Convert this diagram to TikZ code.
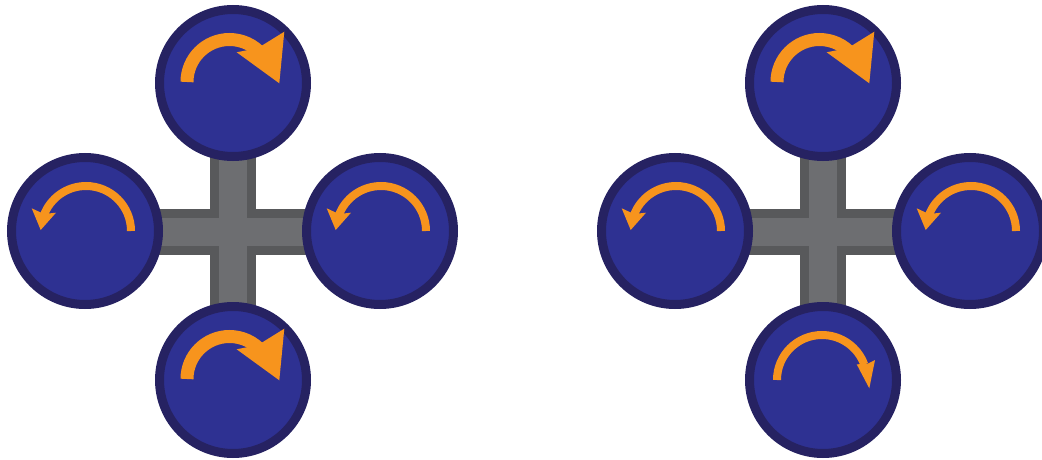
\documentclass[tikz,border=0pt]{standalone}
\definecolor{motorc}{HTML}{2E3192}
\definecolor{ringc}{HTML}{262262}
\definecolor{arrowc}{HTML}{F7941D}
\definecolor{bardark}{HTML}{58595B}
\definecolor{barlight}{HTML}{6D6E71}
\tikzset{
  motor/.style={circle, draw=ringc, fill=motorc, line width=9pt, minimum size=147pt, inner sep=0pt},
  barouter/.style={draw=bardark, line width=46pt},
  barinner/.style={draw=barlight, line width=28pt},
  shaftbig/.style={draw=arrowc, line width=13pt},
  shaftsmall/.style={draw=arrowc, line width=8pt},
  headfill/.style={fill=arrowc}
}
\newcommand{\bigcwarrow}{%
  \draw[shaftbig] (-46,-1) arc[start angle=180, end angle=320, radius=42.5];
  \fill[headfill] (3.7,-30.7) -- (25,-35) -- (51.3,-51.3) -- (46.3,0.3) -- cycle;}
\newcommand{\smallccwarrow}{%
  \draw[shaftsmall] (46,0) arc[start angle=0, end angle=-160, radius=45];
  \fill[headfill] (-53.3,-22.7) -- (-44.3,-1) -- (-29,-18.3) -- (-41,-17) -- cycle;}
\newcommand{\smallcwarrow}{%
  \draw[shaftsmall] (-46,0) arc[start angle=180, end angle=340, radius=45];
  \fill[headfill] (52,-20) -- (46.3,8.3) -- (33.7,-15.7) -- (44,-16) -- cycle;}
\begin{document}
\begin{tikzpicture}[x=1pt, y=-1pt]
\useasboundingbox (0,0) rectangle (1042,460);
% left quad
\coordinate (Lc) at (233,232);
\coordinate (Lt) at (233,83);
\coordinate (Lb) at (233,380);
\coordinate (Ll) at (85,231);
\coordinate (Lr) at (380,231);
% right quad
\coordinate (Rt) at (823,83);
\coordinate (Rb) at (823,380);
\coordinate (Rl) at (675,231);
\coordinate (Rr) at (970,231);
% frames
\draw[barouter] (Ll |- Lc) -- (Lr |- Lc);
\draw[barouter] (Lt) -- (Lb);
\draw[barinner] (Ll |- Lc) -- (Lr |- Lc);
\draw[barinner] (Lt) -- (Lb);
\draw[barouter] (Rl |- Lc) -- (Rr |- Lc);
\draw[barouter] (Rt) -- (Rb);
\draw[barinner] (Rl |- Lc) -- (Rr |- Lc);
\draw[barinner] (Rt) -- (Rb);
% motors
\node[motor] (mLt) at (Lt) {};
\node[motor] (mLb) at (Lb) {};
\node[motor] (mLl) at (Ll) {};
\node[motor] (mLr) at (Lr) {};
\node[motor] (mRt) at (Rt) {};
\node[motor] (mRb) at (Rb) {};
\node[motor] (mRl) at (Rl) {};
\node[motor] (mRr) at (Rr) {};
% rotation arrows
\begin{scope}[shift={(mLt.center)}]\bigcwarrow\end{scope}
\begin{scope}[shift={(mLb.center)}]\bigcwarrow\end{scope}
\begin{scope}[shift={(mLl.center)}]\smallccwarrow\end{scope}
\begin{scope}[shift={(mLr.center)}]\smallccwarrow\end{scope}
\begin{scope}[shift={(mRt.center)}]\bigcwarrow\end{scope}
\begin{scope}[shift={(mRb.center)}]\smallcwarrow\end{scope}
\begin{scope}[shift={(mRl.center)}]\smallccwarrow\end{scope}
\begin{scope}[shift={(mRr.center)}]\smallccwarrow\end{scope}
\end{tikzpicture}
\end{document}
